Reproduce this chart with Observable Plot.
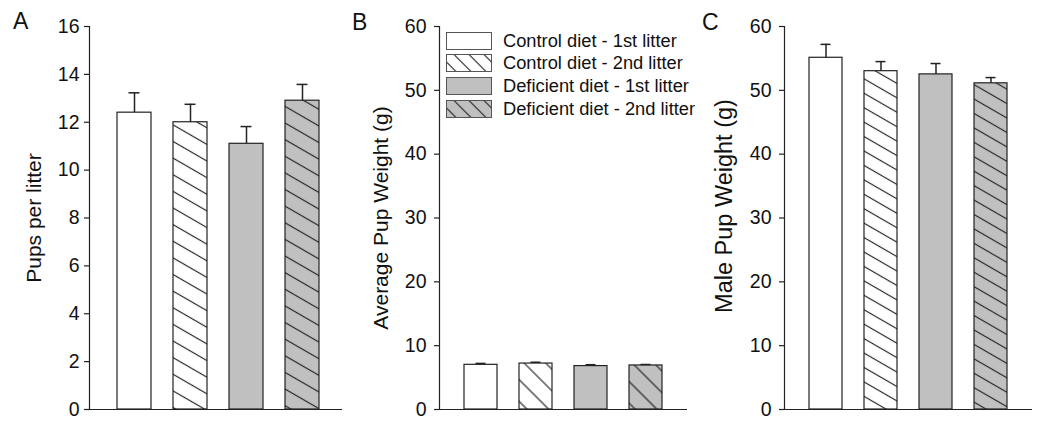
<!DOCTYPE html>
<html><head><meta charset="utf-8">
<script src="https://cdn.jsdelivr.net/npm/d3@7"></script>
<script src="https://cdn.jsdelivr.net/npm/@observablehq/plot@0.6"></script>
<style>
body{margin:0;background:#fff;font-family:"Liberation Sans",Arial,sans-serif;}
#wrap{position:relative;width:1050px;height:430px;overflow:hidden;background:#fff;}
.panel{position:absolute;top:0;}
.title{position:absolute;font-size:21px;line-height:1;color:#111;white-space:nowrap;transform:translate(-50%,-50%) rotate(-90deg);}
.letter{position:absolute;font-size:23px;line-height:1;color:#111;}
.lrow{position:absolute;left:446px;height:18px;display:flex;align-items:center;font-size:18.3px;color:#111;white-space:nowrap;}
.lrow svg{margin-right:11px;}
</style></head><body>
<svg width="0" height="0" style="position:absolute"><defs id="defs"></defs></svg>
<div id="wrap"></div>
<script>
// ---- data ----
const groups = ["Control diet - 1st litter", "Control diet - 2nd litter", "Deficient diet - 1st litter", "Deficient diet - 2nd litter"];
const pupsPerLitter = [12.4, 12.0, 11.1, 12.9];
const pupsPerLitterErr = [0.83, 0.75, 0.72, 0.68];
const avgPupWeight = [7.0, 7.2, 6.8, 6.9];
const avgPupWeightErr = [0.22, 0.2, 0.22, 0.15];
const malePupWeight = [55.1, 53.0, 52.5, 51.1];
const malePupWeightErr = [2.1, 1.5, 1.7, 0.9];
const ticksA = [0, 2, 4, 6, 8, 10, 12, 14, 16];
const ticksBC = [0, 10, 20, 30, 40, 50, 60];
const panelLetters = ["A", "B", "C"];
const axisTitles = ["Pups per litter", "Average Pup Weight (g)", "Male Pup Weight (g)"];

// ---- hatch patterns ----
const GRAY = "#c0c0c0", INK = "#222";
function hatch(id, bg, angle, gap) {
  return `<pattern id="${id}" patternUnits="userSpaceOnUse" width="8" height="${gap}" patternTransform="rotate(${angle})">
    <rect width="8" height="${gap}" fill="${bg}"/>
    <line x1="0" x2="8" y1="${gap/2}" y2="${gap/2}" stroke="${INK}" stroke-width="1.15"/></pattern>`;
}
document.getElementById("defs").innerHTML =
  hatch("hAw", "#fff", 30, 14.4) + hatch("hAg", GRAY, 30, 14.4) +
  hatch("hBw", "#fff", 45, 15.3) + hatch("hBg", GRAY, 45, 15.3) +
  hatch("hCw", "#fff", 30, 12.5) + hatch("hCg", GRAY, 30, 12.5) +
  hatch("hLw", "#fff", 45, 10.6) + hatch("hLg", GRAY, 45, 10.6);

function fillsFor(p) { return ["#fff", `url(#h${p}w)`, GRAY, `url(#h${p}g)`]; }

const wrap = document.getElementById("wrap");

function panel({key, left, width, marginLeft, values, errs, ymax, ticks, pInner, pOuter, align, tickPadding}) {
  const fills = fillsFor(key);
  const data = groups.map((g, i) => ({group: g, value: values[i], err: errs[i], fill: fills[i]}));
  const chart = Plot.plot({
    width, height: 430,
    marginLeft, marginRight: 3, marginTop: 26, marginBottom: 21,
    style: {fontFamily: '"Liberation Sans", Arial, sans-serif', color: "#111", background: "transparent"},
    x: {domain: groups, axis: null, paddingInner: pInner, paddingOuter: pOuter, align},
    y: {domain: [0, ymax], axis: null},
    color: {type: "identity"},
    marks: [
      Plot.barY(data, {x: "group", y: "value", fill: "fill", stroke: INK, strokeWidth: 1.2}),
      Plot.ruleX(data, {x: "group", y1: "value", y2: d => d.value + d.err, stroke: INK, strokeWidth: 1.5}),
      Plot.tickY(data, {x: "group", y: d => d.value + d.err, insetLeft: 11.5, insetRight: 11.5, stroke: INK, strokeWidth: 1.5}),
      Plot.ruleY([0], {stroke: INK, strokeWidth: 1.2}),
      Plot.frame({anchor: "left", stroke: INK, strokeWidth: 1.2}),
      Plot.axisY(ticks, {tickSize: 5, tickPadding, fontSize: 19.5, label: null, stroke: INK, strokeWidth: 1.2})
    ]
  });
  chart.classList.add("panel");
  chart.style.left = left + "px";
  wrap.appendChild(chart);
}

panel({key: "A", left: 0, width: 345, marginLeft: 89, values: pupsPerLitter, errs: pupsPerLitterErr, ymax: 16, ticks: ticksA, pInner: 0.393, pOuter: 0.455, align: 0.55, tickPadding: 5});
panel({key: "B", left: 345, width: 345, marginLeft: 94, values: avgPupWeight, errs: avgPupWeightErr, ymax: 60, ticks: ticksBC, pInner: 0.393, pOuter: 0.411, align: 0.5, tickPadding: 8});
panel({key: "C", left: 690, width: 345, marginLeft: 94, values: malePupWeight, errs: malePupWeightErr, ymax: 60, ticks: ticksBC, pInner: 0.393, pOuter: 0.411, align: 0.5, tickPadding: 8});

// panel letters & axis titles
const letterPos = [[13, 10], [352, 11], [702, 11]];
const titlePos = [[33, 218], [380, 218], [725, 206]];
const titleSizes = [21, 21, 23.5];
panelLetters.forEach((t, i) => {
  const d = document.createElement("div");
  d.className = "letter"; d.textContent = t;
  d.style.left = letterPos[i][0] + "px"; d.style.top = letterPos[i][1] + "px";
  wrap.appendChild(d);
});
axisTitles.forEach((t, i) => {
  const d = document.createElement("div");
  d.className = "title"; d.textContent = t;
  d.style.fontSize = titleSizes[i] + "px";
  d.style.left = titlePos[i][0] + "px"; d.style.top = titlePos[i][1] + "px";
  wrap.appendChild(d);
});

// legend (inside panel B)
const legendFills = fillsFor("L");
groups.forEach((g, i) => {
  const row = document.createElement("div");
  row.className = "lrow";
  row.style.top = (31.5 + i * 22.8) + "px";
  row.innerHTML = `<svg width="46" height="18"><rect x="0.5" y="0.5" width="45" height="17" fill="${legendFills[i]}" stroke="#555" stroke-width="1"/></svg><span>${g}</span>`;
  wrap.appendChild(row);
});
</script>
</body></html>
